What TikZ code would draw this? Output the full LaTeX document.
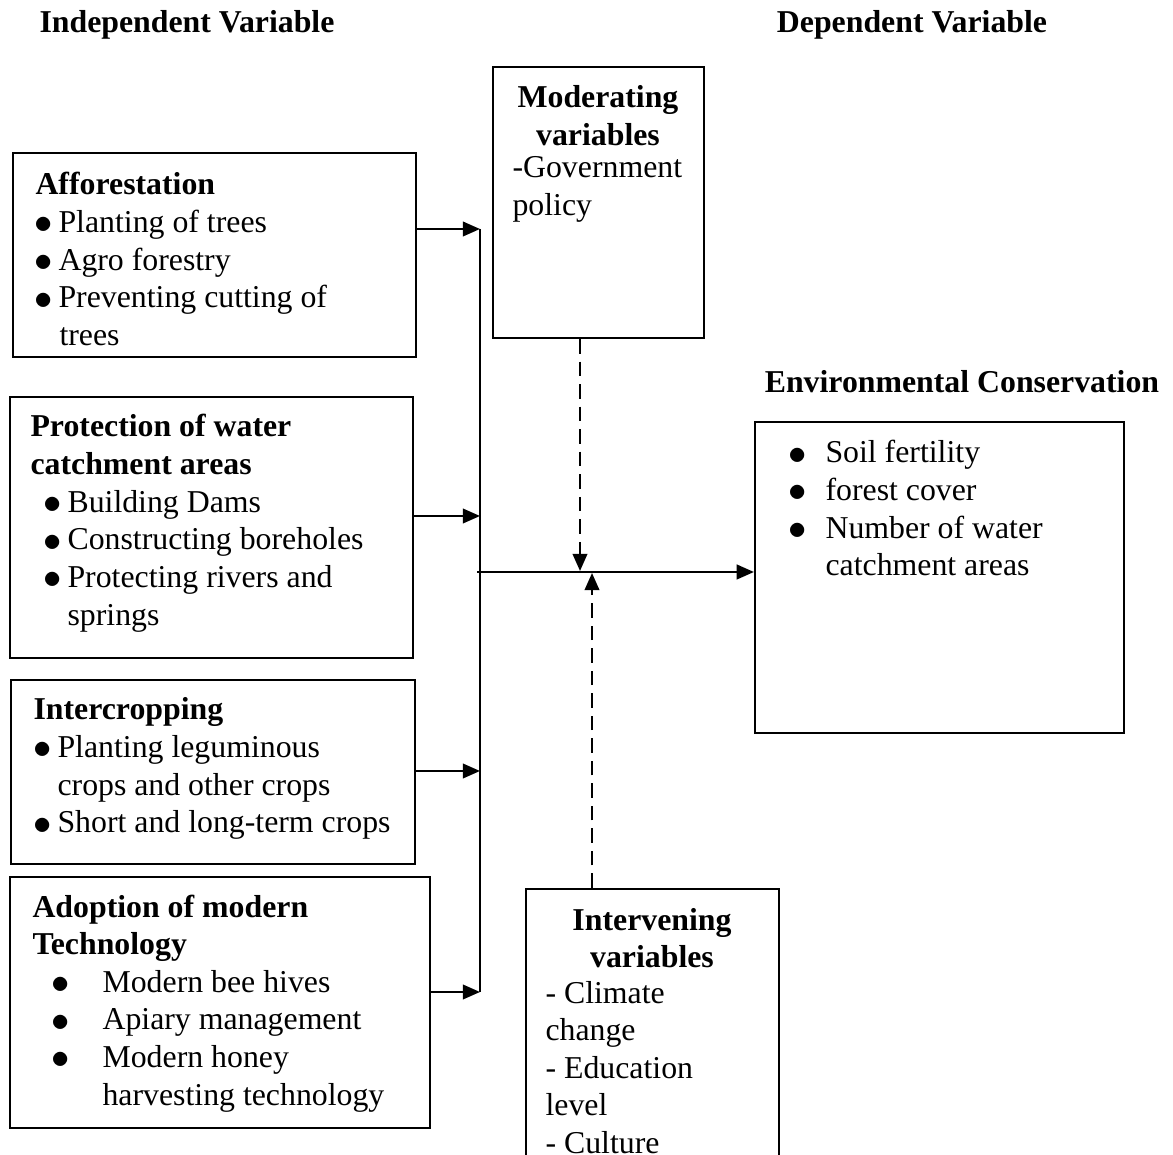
\documentclass[tikz,border=0pt]{standalone}
\usepackage{fontspec}
\setmainfont{Liberation Serif}
\usetikzlibrary{arrows.meta, positioning, fit}

\newdimen\pxu \pxu=0.3774pt
\newcommand{\bl}[2]{\hspace*{#1\pxu}\makebox[#2\pxu][l]{\kern-0.8pt\raisebox{-0.5pt}{\scalebox{1.15}{$\bullet$}}}}
\newcommand{\ind}[1]{\hspace*{#1\pxu}}
\newcommand{\tl}[1]{\begin{tabular}[t]{@{}l@{}}#1\end{tabular}}
\newcommand{\tc}[1]{\begin{tabular}[t]{@{}c@{}}#1\end{tabular}}

\begin{document}
\begin{tikzpicture}[x=0.01326cm, y=-0.01326cm, font=\fontsize{12}{14.2}\selectfont]
\useasboundingbox (0,0) rectangle (1173,1155);

\begin{scope}[every node/.style={draw, line width=0.8pt, inner sep=0pt}]
    \node[fit={(13,153)(416,357)}] (aff) {};
    \node[fit={(10,397)(413,658)}] (prot) {};
    \node[fit={(11,680)(415,864)}] (inter) {};
    \node[fit={(10,877)(430,1128)}] (adopt) {};
    \node[fit={(493,67)(704,338)}] (mod) {};
    \node[fit={(755,422)(1124,733)}] (env) {};
    \node[fit={(526,889)(779,1175)}] (intv) {};
\end{scope}

\begin{scope}[every node/.style={anchor=base west, inner sep=0pt}]
    \node (aff-t) at (35,195) {\tl{\textbf{Afforestation}\\
        \bl{1}{22}Planting of trees\\
        \bl{1}{22}Agro forestry\\
        \bl{1}{22}Preventing cutting of\\
        \ind{24}trees}};
    \node (prot-t) at (30,437) {\tl{\textbf{Protection of water}\\
        \textbf{catchment areas}\\
        \bl{15}{22}Building Dams\\
        \bl{15}{22}Constructing boreholes\\
        \bl{15}{22}Protecting rivers and\\
        \ind{37}springs}};
    \node (inter-t) at (33,720) {\tl{\textbf{Intercropping}\\
        \bl{2}{22}Planting leguminous\\
        \ind{24}crops and other crops\\
        \bl{2}{22}Short and long-term crops}};
    \node (adopt-t) at (32,917) {\tl{\textbf{Adoption of modern}\\
        \textbf{Technology}\\
        \bl{21}{49}Modern bee hives\\
        \bl{21}{49}Apiary management\\
        \bl{21}{49}Modern honey\\
        \ind{70}harvesting technology}};
    \node (mod-t) at (512,178) {\tl{-Government\\policy}};
    \node (intv-t) at (545,1003) {\tl{- Climate\\change\\- Education\\level\\- Culture}};
    \node (env-t) at (790,463) {\tl{\bl{0}{35}Soil fertility\\
        \bl{0}{35}forest cover\\
        \bl{0}{35}Number of water\\
        \ind{35}catchment areas}};
\end{scope}

\begin{scope}[every node/.style={anchor=base, inner sep=0pt, font=\fontsize{12}{14.2}\selectfont\bfseries}]
    \node (iv-h) at (187,33) {Independent Variable};
    \node (dv-h) at (912,33) {Dependent Variable};
    \node (env-h) at (962,393) {Environmental Conservation};
    \node (mod-h) at (598,108) {\tc{Moderating\\variables}};
    \node (intv-h) at (652,930) {\tc{Intervening\\variables}};
\end{scope}

\coordinate (j1) at (480,229);
\coordinate (j2) at (480,516);
\coordinate (j3) at (480,771);
\coordinate (j4) at (480,992);
\coordinate (hub) at (477,572);
\coordinate (md) at (580,571);
\coordinate (iv) at (592,573);

\begin{scope}[every edge/.style={draw, line width=0.9pt, -{Triangle[length=6.5pt, width=5.5pt]}}]
    \draw[line width=0.9pt] (j1) -- (j4);
    \path (aff.east |- j1) edge (j1);
    \path (prot.east |- j2) edge (j2);
    \path (inter.east |- j3) edge (j3);
    \path (adopt.east |- j4) edge (j4);
    \path (hub) edge (hub -| env.west);
    \path (mod.south -| md) edge[dash pattern=on 5.5pt off 3pt] (md);
    \path (intv.north -| iv) edge[dash pattern=on 5.5pt off 3pt] (iv);
\end{scope}
\end{tikzpicture}
\end{document}
